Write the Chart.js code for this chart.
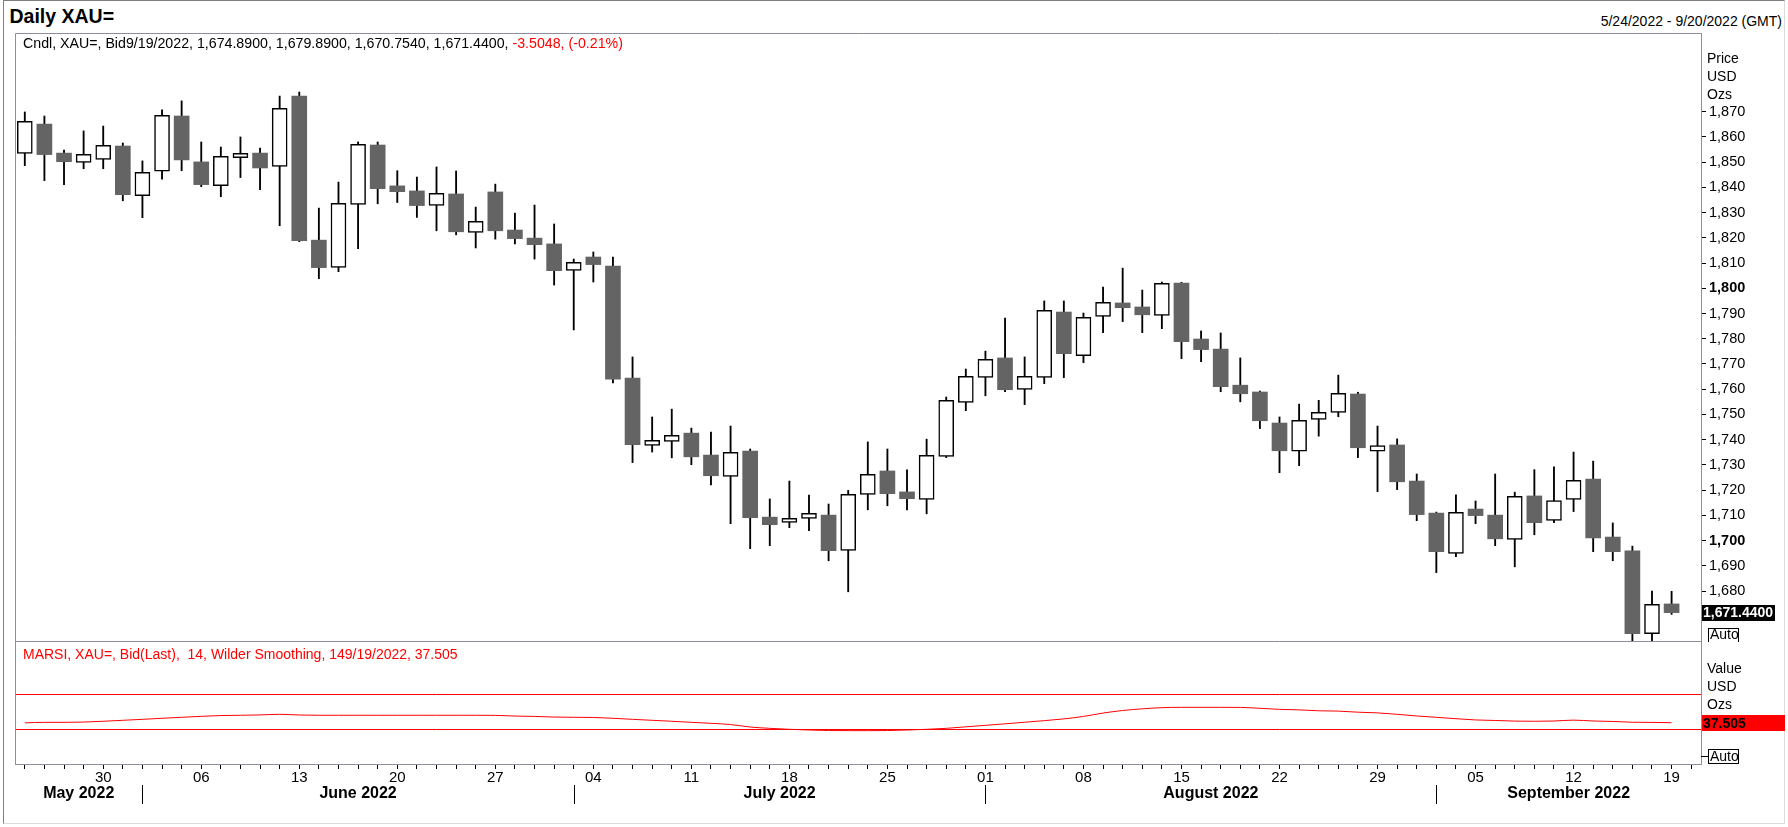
<!DOCTYPE html>
<html>
<head>
<meta charset="utf-8">
<title>Daily XAU=</title>
<script src="https://cdn.jsdelivr.net/npm/chart.js@4.4.1/dist/chart.umd.min.js"></script>
<style>
  body { margin: 0; background: #fff; }
  #wrap { position: relative; width: 1788px; height: 827px; overflow: hidden; font-family: "Liberation Sans", Arial, sans-serif; color: #000; }
  #frame { position: absolute; left: 3px; top: 0; width: 1782px; height: 824px; box-sizing: border-box;
           border-top: 1px solid #7f7f7f; border-left: 1px solid #7f7f7f; border-right: 1px solid #dcdcdc; border-bottom: 1px solid #dcdcdc; }
  .txt { position: absolute; white-space: pre; }
  #title { left: 9.5px; top: 7.4px; font-size: 19.5px; line-height: 19px; font-weight: bold; }
  #range { right: 6px; top: 13.6px; font-size: 14px; line-height: 14px; }
  #cndl { left: 23px; top: 35.5px; font-size: 14.2px; line-height: 14px; }
  #marsi { left: 23px; top: 646.6px; font-size: 14px; line-height: 14px; color: #ff0000; }
  .red { color: #ff0000; }
  canvas { position: absolute; left: 0; }
  #price { top: 0; }
  #rsi { top: 642px; }
</style>
</head>
<body>
<div id="wrap">
  <div id="frame"></div>
  <div id="title" class="txt">Daily XAU=</div>
  <div id="range" class="txt">5/24/2022 - 9/20/2022 (GMT)</div>
  <canvas id="price" width="1788" height="642"></canvas>
  <canvas id="rsi" width="1788" height="185"></canvas>
  <div id="cndl" class="txt">Cndl, XAU=, Bid9/19/2022, 1,674.8900, 1,679.8900, 1,670.7540, 1,671.4400, <span class="red">-3.5048, (-0.21%)</span></div>
  <div id="marsi" class="txt">MARSI, XAU=, Bid(Last),  14, Wilder Smoothing, 149/19/2022, 37.505</div>
</div>
<script>
// trading days shown on the axis (the last one, 9/20, has no candle yet)
const dates = [
  '2022-05-24', '2022-05-25', '2022-05-26', '2022-05-27', '2022-05-30', '2022-05-31',
  '2022-06-01', '2022-06-02', '2022-06-03', '2022-06-06', '2022-06-07', '2022-06-08', '2022-06-09', '2022-06-10',
  '2022-06-13', '2022-06-14', '2022-06-15', '2022-06-16', '2022-06-17', '2022-06-20', '2022-06-21', '2022-06-22',
  '2022-06-23', '2022-06-24', '2022-06-27', '2022-06-28', '2022-06-29', '2022-06-30',
  '2022-07-01', '2022-07-04', '2022-07-05', '2022-07-06', '2022-07-07', '2022-07-08', '2022-07-11', '2022-07-12',
  '2022-07-13', '2022-07-14', '2022-07-15', '2022-07-18', '2022-07-19', '2022-07-20', '2022-07-21', '2022-07-22',
  '2022-07-25', '2022-07-26', '2022-07-27', '2022-07-28', '2022-07-29',
  '2022-08-01', '2022-08-02', '2022-08-03', '2022-08-04', '2022-08-05', '2022-08-08', '2022-08-09', '2022-08-10',
  '2022-08-11', '2022-08-12', '2022-08-15', '2022-08-16', '2022-08-17', '2022-08-18', '2022-08-19', '2022-08-22',
  '2022-08-23', '2022-08-24', '2022-08-25', '2022-08-26', '2022-08-29', '2022-08-30', '2022-08-31',
  '2022-09-01', '2022-09-02', '2022-09-05', '2022-09-06', '2022-09-07', '2022-09-08', '2022-09-09', '2022-09-12',
  '2022-09-13', '2022-09-14', '2022-09-15', '2022-09-16', '2022-09-19', '2022-09-20'
];

const opens = [
  1853.5, 1865.1, 1853.6, 1849.9, 1851.1, 1856.4, 1836.7, 1846.4, 1868.3, 1850.1,
  1840.7, 1851.8, 1853.6, 1848.3, 1876.2, 1819.1, 1808.3, 1833.3, 1856.8, 1840.6,
  1838.6, 1832.9, 1837.4, 1822.2, 1838.2, 1823.1, 1819.9, 1817.6, 1807.1, 1812.4,
  1808.8, 1764.4, 1737.7, 1739.3, 1742.6, 1733.9, 1725.4, 1735.5, 1709.3, 1707.2,
  1708.8, 1710.1, 1696.1, 1718.3, 1727.6, 1719.3, 1716.3, 1733.4, 1754.8, 1764.7,
  1772.4, 1759.9, 1764.7, 1790.6, 1773.3, 1788.9, 1794.2, 1792.6, 1789.3, 1802.1,
  1779.9, 1775.9, 1761.6, 1758.9, 1746.6, 1735.4, 1748.0, 1750.8, 1758.1, 1735.4,
  1737.9, 1723.6, 1710.9, 1694.9, 1712.5, 1710.1, 1700.5, 1717.7, 1708.0, 1716.3,
  1724.4, 1701.4, 1695.9, 1663.1, 1674.89
];
const highs = [
  1869.9, 1868.3, 1854.8, 1862.4, 1864.3, 1857.6, 1850.5, 1870.7, 1874.3, 1858.0,
  1856.0, 1860.0, 1855.6, 1876.2, 1877.8, 1831.8, 1842.1, 1858.0, 1858.0, 1846.6,
  1844.1, 1848.1, 1846.5, 1832.2, 1841.3, 1829.8, 1833.0, 1825.5, 1811.6, 1814.4,
  1812.4, 1772.8, 1749.0, 1752.1, 1744.6, 1743.0, 1745.4, 1736.3, 1716.5, 1723.6,
  1718.0, 1714.5, 1719.9, 1739.1, 1736.3, 1728.0, 1740.2, 1756.9, 1768.0, 1775.1,
  1788.2, 1772.8, 1795.0, 1795.0, 1790.2, 1800.5, 1808.0, 1799.3, 1802.5, 1802.4,
  1783.1, 1782.3, 1772.4, 1759.3, 1749.0, 1754.1, 1755.6, 1765.6, 1758.8, 1745.4,
  1740.3, 1726.4, 1711.3, 1718.1, 1715.7, 1726.4, 1719.2, 1728.1, 1729.2, 1735.1,
  1731.5, 1707.0, 1697.8, 1680.0, 1679.89
];
const lows = [
  1848.6, 1842.7, 1841.1, 1847.4, 1847.4, 1834.7, 1828.0, 1843.3, 1846.6, 1840.3,
  1836.3, 1843.9, 1839.1, 1824.8, 1818.5, 1803.8, 1806.6, 1815.7, 1833.5, 1834.0,
  1828.1, 1822.8, 1821.2, 1816.0, 1819.5, 1817.6, 1811.6, 1801.3, 1783.5, 1802.5,
  1762.5, 1730.9, 1735.1, 1732.8, 1730.1, 1722.1, 1706.7, 1696.8, 1698.0, 1705.1,
  1703.9, 1692.0, 1679.7, 1712.2, 1713.8, 1712.2, 1710.6, 1732.9, 1751.5, 1757.4,
  1759.0, 1753.9, 1762.2, 1764.6, 1770.5, 1782.4, 1786.8, 1782.4, 1784.0, 1772.1,
  1770.9, 1759.0, 1755.0, 1744.4, 1726.9, 1729.7, 1741.4, 1749.1, 1732.9, 1719.4,
  1720.2, 1707.9, 1687.3, 1693.6, 1706.7, 1698.0, 1689.6, 1702.3, 1707.1, 1711.5,
  1695.6, 1692.0, 1654.0, 1659.0, 1670.754
];
const closes = [
  1866.2, 1853.0, 1850.2, 1853.1, 1856.7, 1837.1, 1846.0, 1868.6, 1850.9, 1841.1,
  1852.3, 1853.5, 1847.7, 1871.3, 1818.9, 1808.2, 1833.7, 1857.1, 1839.5, 1838.3,
  1832.8, 1837.6, 1822.4, 1826.5, 1822.8, 1819.7, 1817.3, 1807.0, 1810.3, 1809.4,
  1764.0, 1738.0, 1739.7, 1741.7, 1733.2, 1725.7, 1735.0, 1709.1, 1706.3, 1708.8,
  1710.8, 1696.0, 1718.3, 1726.3, 1718.6, 1716.6, 1733.8, 1755.6, 1765.1, 1771.8,
  1759.8, 1765.1, 1791.3, 1774.1, 1788.5, 1794.4, 1792.3, 1789.5, 1802.0, 1778.8,
  1775.7, 1761.0, 1758.2, 1747.5, 1735.6, 1747.7, 1750.8, 1758.4, 1736.8, 1737.7,
  1723.3, 1710.3, 1695.6, 1711.2, 1709.9, 1700.7, 1717.5, 1707.1, 1715.9, 1723.9,
  1701.1, 1695.6, 1663.1, 1674.7, 1671.44
];

// MARSI 14, Wilder smoothing
const rsi = [
  37.3, 37.9, 37.9, 38.2, 39.1, 40.2, 41.3, 42.5, 43.6, 44.7,
  45.6, 45.9, 46.3, 47.0, 46.2, 45.9, 45.9, 45.9, 45.9, 45.9,
  45.9, 45.9, 45.9, 45.9, 45.8, 45.0, 44.6, 43.9, 43.6, 43.4,
  42.5, 41.3, 40.2, 39.1, 37.9, 36.8, 35.4, 32.6, 31.1, 30.0,
  29.2, 28.6, 28.5, 28.5, 28.6, 29.2, 30.0, 31.1, 32.8, 34.5,
  36.2, 38.0, 39.8, 41.8, 44.6, 48.4, 51.3, 53.2, 54.5, 54.9,
  54.9, 54.9, 54.8, 53.8, 52.6, 52.0, 51.0, 50.6, 49.4, 48.6,
  47.0, 45.1, 43.6, 42.0, 40.6, 40.0, 39.3, 39.1, 39.4, 40.4,
  39.4, 38.9, 38.0, 37.8, 37.505
];

const priceTicks = [1680, 1690, 1700, 1710, 1720, 1730, 1740, 1750, 1760, 1770,
                    1780, 1790, 1800, 1810, 1820, 1830, 1840, 1850, 1860, 1870];
const rsiLevels = [70, 30];
const monthNames = ['May 2022', 'June 2022', 'July 2022', 'August 2022', 'September 2022'];

const FONT = '"Liberation Sans", Arial, sans-serif';
const FRAME = '#8e8e9e';
const UP = '#ffffff';
const DOWN = '#646464';

Chart.defaults.font.family = FONT;
Chart.defaults.color = '#000';

const bodies = opens.map((o, i) => [o, closes[i]]);
const wicks = lows.map((l, i) => [l, highs[i]]);
const isUp = opens.map((o, i) => closes[i] >= o);

// keep the plot box where it is: no room reserved for half tick labels
function fixSide(width) {
  return s => {
    s.width = width;
    s.paddingTop = 0;
    s.paddingBottom = 0;
  };
}

function drawAuto(ctx, x, yMid) {
  ctx.strokeStyle = '#000';
  ctx.lineWidth = 1;
  ctx.strokeRect(x + 0.5, Math.round(yMid - 7) + 0.5, 30, 14);
  ctx.fillStyle = '#000';
  ctx.font = '14px ' + FONT;
  ctx.textAlign = 'left';
  ctx.textBaseline = 'middle';
  ctx.fillText('Auto', x + 2, yMid + 1);
}

const priceExtras = {
  id: 'priceExtras',
  afterDraw(chart) {
    const { ctx, chartArea: a, scales: { y } } = chart;
    ctx.save();
    ctx.strokeStyle = FRAME;
    ctx.lineWidth = 1;
    ctx.beginPath();
    ctx.moveTo(a.left + 0.5, a.bottom);
    ctx.lineTo(a.left + 0.5, a.top + 0.5);
    ctx.lineTo(a.right, a.top + 0.5);
    ctx.moveTo(a.left, a.bottom - 0.5);
    ctx.lineTo(a.right, a.bottom - 0.5);
    ctx.stroke();

    ctx.fillStyle = '#000';
    ctx.font = '14px ' + FONT;
    ctx.textAlign = 'left';
    ctx.textBaseline = 'middle';
    ['Price', 'USD', 'Ozs'].forEach((t, i) => ctx.fillText(t, a.right + 6, 59 + i * 18.3));

    const last = closes[closes.length - 1];
    const py = y.getPixelForValue(last);
    ctx.fillStyle = '#000';
    ctx.fillRect(a.right + 1, Math.round(py - 8), 73, 16);
    ctx.fillStyle = '#fff';
    ctx.font = 'bold 14px ' + FONT;
    ctx.fillText(last.toLocaleString('en-US', { minimumFractionDigits: 4, maximumFractionDigits: 4 }), a.right + 2, py + 1);

    drawAuto(ctx, a.right + 7, 634.5);
    ctx.restore();
  }
};

new Chart(document.getElementById('price'), {
  type: 'bar',
  data: {
    labels: dates,
    datasets: [
      {
        label: 'body',
        data: bodies,
        backgroundColor: isUp.map(u => u ? UP : DOWN),
        borderColor: '#000',
        borderWidth: isUp.map(u => u ? 1.5 : 0),
        borderSkipped: false,
        barThickness: 15,
        grouped: false,
        order: 0
      },
      {
        label: 'wick',
        data: wicks,
        backgroundColor: '#000',
        borderWidth: 0,
        barThickness: 1.2,
        grouped: false,
        order: 1
      }
    ]
  },
  options: {
    responsive: false,
    animation: false,
    events: [],
    layout: { padding: { left: 15, top: 33, right: 0, bottom: 0 } },
    plugins: { legend: { display: false }, tooltip: { enabled: false } },
    scales: {
      x: { display: false, offset: true },
      y: {
        position: 'right',
        min: 1659.8,
        max: 1901.2,
        afterBuildTicks: s => { s.ticks = priceTicks.map(v => ({ value: v })); },
        afterFit: fixSide(87),
        grid: { drawOnChartArea: false, tickLength: 5, tickColor: '#000' },
        border: { color: FRAME },
        ticks: {
          padding: 3,
          color: '#000',
          font: c => ({ size: 14.5, weight: (c.tick && c.tick.value % 100 === 0) ? 'bold' : 'normal' }),
          callback: v => v.toLocaleString('en-US')
        }
      }
    }
  },
  plugins: [priceExtras]
});

const rsiExtras = {
  id: 'rsiExtras',
  beforeDatasetsDraw(chart) {
    const { ctx, chartArea: a, scales: { y } } = chart;
    ctx.save();
    ctx.strokeStyle = '#ff0000';
    ctx.lineWidth = 1;
    rsiLevels.forEach(v => {
      const py = Math.round(y.getPixelForValue(v)) + 0.5;
      ctx.beginPath();
      ctx.moveTo(a.left, py);
      ctx.lineTo(a.right, py);
      ctx.stroke();
    });
    ctx.restore();
  },
  afterDraw(chart) {
    const { ctx, chartArea: a, scales: { x, y } } = chart;
    const top = 642;
    ctx.save();
    ctx.strokeStyle = FRAME;
    ctx.lineWidth = 1;
    ctx.beginPath();
    ctx.moveTo(a.left + 0.5, a.top);
    ctx.lineTo(a.left + 0.5, a.bottom);
    ctx.stroke();

    ctx.fillStyle = '#000';
    ctx.font = '14px ' + FONT;
    ctx.textAlign = 'left';
    ctx.textBaseline = 'middle';
    ['Value', 'USD', 'Ozs'].forEach((t, i) => ctx.fillText(t, a.right + 6, 669 - top + i * 18));

    const last = rsi[rsi.length - 1];
    const py = y.getPixelForValue(last);
    ctx.fillStyle = '#ff0000';
    ctx.fillRect(a.right + 1, Math.round(py - 8), 83, 16);
    ctx.fillStyle = '#000';
    ctx.font = 'bold 14px ' + FONT;
    ctx.fillText(last.toFixed(3), a.right + 2, py + 1);

    ctx.strokeStyle = '#000';
    ctx.beginPath();
    ctx.moveTo(a.right, 756.5 - top);
    ctx.lineTo(a.right + 7, 756.5 - top);
    ctx.stroke();
    drawAuto(ctx, a.right + 7, 756 - top);

    // month separators and names
    const starts = [];
    dates.forEach((d, i) => { if (i > 0 && d.slice(5, 7) !== dates[i - 1].slice(5, 7)) starts.push(i); });
    const bounds = [a.left, ...starts.map(i => x.getPixelForValue(i)), a.right];
    ctx.strokeStyle = '#000';
    starts.forEach(i => {
      const px = Math.round(x.getPixelForValue(i)) + 0.5;
      ctx.beginPath();
      ctx.moveTo(px, 785 - top);
      ctx.lineTo(px, 804 - top);
      ctx.stroke();
    });
    ctx.fillStyle = '#000';
    ctx.font = 'bold 16px ' + FONT;
    ctx.textAlign = 'center';
    monthNames.forEach((m, i) => ctx.fillText(m, (bounds[i] + bounds[i + 1]) / 2, 794 - top));
    ctx.restore();
  }
};

new Chart(document.getElementById('rsi'), {
  type: 'line',
  data: {
    labels: dates,
    datasets: [{
      data: rsi,
      borderColor: '#ff0000',
      borderWidth: 1,
      pointRadius: 0,
      cubicInterpolationMode: 'monotone'
    }]
  },
  options: {
    responsive: false,
    animation: false,
    events: [],
    layout: { padding: { left: 15, top: 0, right: 0, bottom: 0 } },
    plugins: { legend: { display: false }, tooltip: { enabled: false } },
    scales: {
      x: {
        offset: true,
        afterFit: s => { s.height = 63; },
        grid: { offset: false, drawOnChartArea: false, tickLength: 5, tickColor: '#000' },
        border: { color: FRAME },
        ticks: {
          autoSkip: false,
          maxRotation: 0,
          padding: 0,
          color: '#000',
          font: { size: 15 },
          callback: (v, i) => new Date(dates[i] + 'T00:00:00Z').getUTCDay() === 1 ? dates[i].slice(8) : ''
        }
      },
      y: {
        position: 'right',
        min: -9.3,
        max: 128.9,
        afterFit: fixSide(87),
        grid: { display: false },
        border: { color: FRAME },
        ticks: { display: false }
      }
    }
  },
  plugins: [rsiExtras]
});
</script>
</body>
</html>
